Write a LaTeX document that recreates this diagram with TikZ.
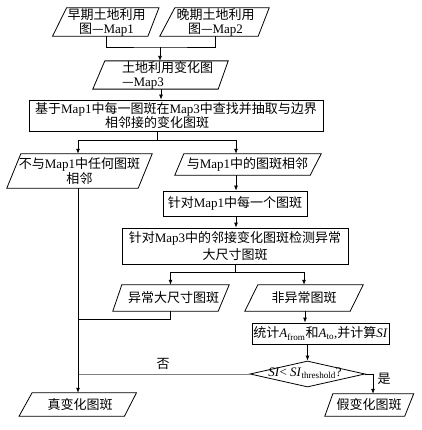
\documentclass[tikz,border=0pt]{standalone}
\usepackage{fontspec}
\setmainfont{Noto Sans CJK SC}
\newfontfamily\tm{Liberation Serif}
\usetikzlibrary{arrows.meta,shapes.geometric}
\tikzset{
  lin/.style={line width=0.8pt, black},
  arr/.style={lin, -{Latex[length=5pt,width=4pt]}},
  txt/.style={inner sep=0pt, align=center, font=\fontsize{13pt}{14pt}\selectfont},
  pnode/.style={txt},
  boxnode/.style={txt, draw, line width=0.8pt},
}
\newcommand\paral[3]{\draw[lin] ([xshift=-#2pt]#1.south west) -- ([xshift=#2pt]#1.north west) -- ([xshift=#3pt]#1.north east) -- ([xshift=-#3pt]#1.south east) -- cycle;}
\begin{document}
\begin{tikzpicture}[x=1pt,y=-1pt]
\useasboundingbox[fill=white] (0,0) rectangle (421,430);
% parallelogram nodes
\node[pnode, minimum width=93.5pt, minimum height=28pt] (m1) at (106.5,22) {早期土地利用\\图—{\tm Map1}};
\node[pnode, minimum width=96pt, minimum height=28pt] (m2) at (215.5,22) {晚期土地利用\\图—{\tm Map2}};
\node[pnode, minimum width=124pt, minimum height=24pt, align=left] (m3) at (161,75) {\hspace*{13pt}土地利用变化图\\\hspace*{13pt}—{\tm Map3}};
\paral{m1}{7}{5.5}
\paral{m2}{7.5}{5.5}
\paral{m3}{6}{5}
% box 1
\node[boxnode, minimum width=294pt, minimum height=31pt, align=left] (b1) at (176,115.5) {基于{\tm Map1}中每一图斑在{\tm Map3}中查找并抽取与边界\\\hspace*{70pt}相邻接的变化图斑};
% second level
\node[pnode, minimum width=131pt, minimum height=34pt, font=\fontsize{13pt}{15pt}\selectfont] (p1) at (79.5,171) {不与{\tm Map1}中任何图斑\\相邻};
\node[pnode, minimum width=136pt, minimum height=21pt] (p2) at (247.5,164.5) {与{\tm Map1}中的图斑相邻};
\paral{p1}{7}{7}
\paral{p2}{4.5}{5.5}
\node[boxnode, minimum width=144pt, minimum height=25pt] (b2) at (235,203.5) {针对{\tm Map1}中每一个图斑};
\node[boxnode, minimum width=226pt, minimum height=36pt, font=\fontsize{13pt}{16.5pt}\selectfont] (b3) at (235,246) {针对{\tm Map3}中的邻接变化图斑检测异常\\大尺寸图斑};
\node[pnode, minimum width=106pt, minimum height=26pt] (p3) at (170.5,298) {\hspace*{6pt}异常大尺寸图斑};
\node[pnode, minimum width=105pt, minimum height=26pt] (p4) at (304,298) {非异常图斑};
\paral{p3}{4.5}{5.5}
\paral{p4}{6.5}{6.5}
\node[boxnode, minimum width=137pt, minimum height=21pt] (b4) at (320.5,333.5) {统计{\tm\textit{A}\textsubscript{from}}和{\tm\textit{A}\textsubscript{to},}并计算{\tm\textit{SI}}};
\node[draw, lin, diamond, minimum width=115pt, minimum height=26pt, inner sep=0pt] (d) at (307.5,374) {};
\node[txt] (dt) at (305,373) {\tm\textit{SI}< \textit{SI}\textsubscript{threshold}?};
\node[pnode, minimum width=104.5pt, minimum height=23pt] (p5) at (78,404.5) {\hspace*{4pt}真变化图斑};
\node[pnode, minimum width=80pt, minimum height=22pt] (p6) at (369,405) {假变化图斑};
\paral{p5}{6.5}{6}
\paral{p6}{4}{4.5}
\node[txt] (yes) at (384,379) {是};
\node[txt] (no) at (163,364) {否};
% helper coordinates
\coordinate (j1) at (160,47);
\coordinate (j2) at (157,140);
\coordinate (L) at (78,0);
\coordinate (R) at (236,0);
\coordinate (j3) at (235.5,272);
\coordinate (j5) at (78,319);
% connectors
\draw[lin] (m1.south) |- (j1) -| (m2.south);
\draw[arr] (j1) -- (j1 |- m3.north);
\draw[arr] (m3.south) -- (m3.south |- b1.north);
\draw[lin] (j2 |- b1.south) -- (j2);
\draw[arr] (j2) -| (L |- p1.north);
\draw[arr] (j2) -| (R |- p2.north);
\draw[arr] (R |- p2.south) -- (R |- b2.north);
\draw[arr] (R |- b2.south) -- (R |- b3.north);
\draw[lin] (j3 |- b3.south) -- (j3);
\draw[arr] (j3) -| (p3.north);
\draw[arr] (j3) -| (p4.north);
\draw[arr] ([xshift=1pt]p4.south) -- ([xshift=1pt]p4.south |- b4.north);
\draw[arr] (d.north |- b4.south) -- (d.north);
\draw[arr] (d.east) -| ([xshift=4pt]p6.north);
\draw[line width=0.8pt, gray] (d.west) -- (L |- d.west);
\draw[lin] (p3.south) |- (j5);
\draw[arr] (L |- p1.south) -- (L |- p5.north);
\end{tikzpicture}
\end{document}
